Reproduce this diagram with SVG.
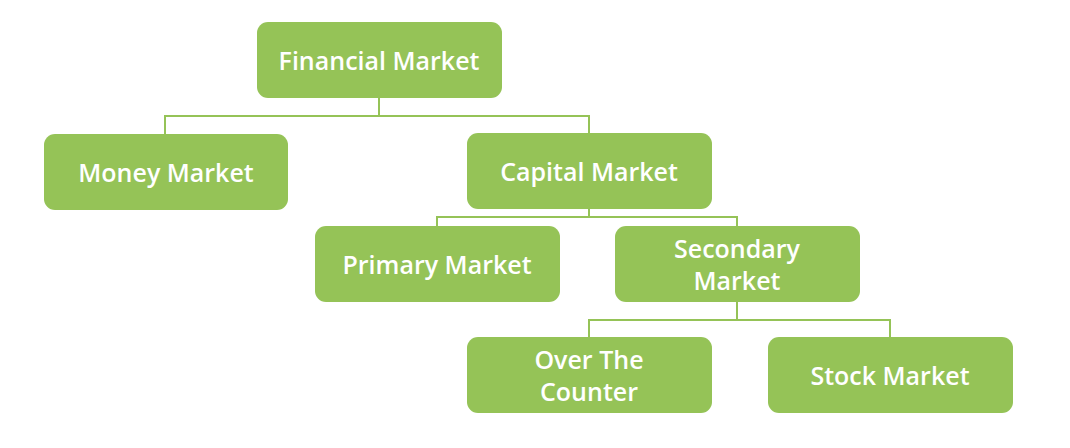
<svg xmlns="http://www.w3.org/2000/svg" width="1070" height="448" viewBox="0 0 1070 448">
<style>
.box{fill:#95c357}
.t{font-family:"Open Sans","Liberation Sans",sans-serif;font-size:25px;font-weight:600;fill:#ffffff;text-anchor:middle;dominant-baseline:central}
.c{fill:none;stroke:#95c357;stroke-width:2}
</style>
<rect width="1070" height="448" fill="#ffffff"/>
<g id="connectors">
<path class="c" d="M379 98V116M165 134V116H589V134"/>
<path class="c" d="M589 209V217M437 227V217H737V227"/>
<path class="c" d="M737 301V320M589 338V320H890V338"/>
</g>
<g id="financial"><rect class="box" x="257" y="22" width="245" height="76" rx="11"/><text class="t" x="379" y="60">Financial Market</text></g>
<g id="money"><rect class="box" x="44" y="134" width="244" height="76" rx="11"/><text class="t" x="166" y="172">Money Market</text></g>
<g id="capital"><rect class="box" x="467" y="133" width="245" height="76" rx="11"/><text class="t" x="589" y="171">Capital Market</text></g>
<g id="primary"><rect class="box" x="315" y="226" width="245" height="76" rx="11"/><text class="t" x="437" y="264">Primary Market</text></g>
<g id="secondary"><rect class="box" x="615" y="226" width="245" height="76" rx="11"/><text class="t" x="737" y="248">Secondary</text><text class="t" x="737" y="280">Market</text></g>
<g id="otc"><rect class="box" x="467" y="337" width="245" height="76" rx="11"/><text class="t" x="589" y="359">Over The</text><text class="t" x="589" y="391">Counter</text></g>
<g id="stock"><rect class="box" x="768" y="337" width="245" height="76" rx="11"/><text class="t" x="890" y="375">Stock Market</text></g>
</svg>
